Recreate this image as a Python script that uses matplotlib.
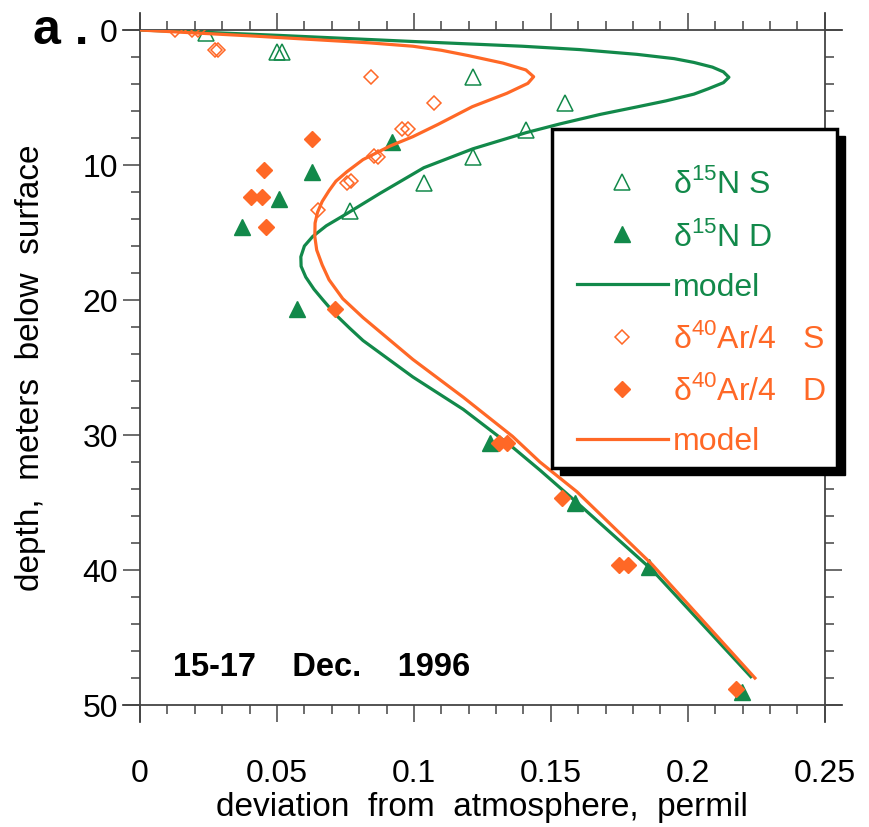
import numpy as np
import matplotlib
matplotlib.use("Agg")
import matplotlib.pyplot as plt
from matplotlib.patches import Rectangle
from matplotlib.ticker import MultipleLocator

plt.rcParams['font.family'] = ['Liberation Sans', 'DejaVu Sans']
plt.rcParams['mathtext.fontset'] = 'custom'
plt.rcParams['mathtext.rm'] = 'Liberation Sans'

GREEN = '#12894a'
ORANGE = '#ff6826'

# d15N, shallow (open) and deep (filled) samples: value, depth
n_s_val = [0.024, 0.050, 0.052, 0.1215, 0.155, 0.141, 0.1215, 0.1036, 0.0766]
n_s_dep = [0.2, 1.6, 1.6, 3.5, 5.4, 7.4, 9.4, 11.3, 13.4]
n_d_val = [0.092, 0.0628, 0.0507, 0.0372, 0.0573, 0.1277, 0.1588, 0.186, 0.2197]
n_d_dep = [8.3, 10.5, 12.5, 14.6, 20.7, 30.6, 35.0, 39.8, 49.0]

# d40Ar/4
ar_s_val = [0.0128, 0.019, 0.021, 0.0274, 0.0285, 0.0843, 0.1073, 0.0956, 0.0978,
            0.0854, 0.087, 0.0755, 0.077, 0.065]
ar_s_dep = [0.0, 0.0, 0.0, 1.5, 1.5, 3.5, 5.4, 7.3, 7.3, 9.3, 9.4, 11.3, 11.2, 13.3]
ar_d_val = [0.0628, 0.0453, 0.0405, 0.0445, 0.046, 0.0712, 0.131, 0.134, 0.154,
            0.175, 0.178, 0.2175]
ar_d_dep = [8.1, 10.4, 12.4, 12.4, 14.6, 20.7, 30.6, 30.6, 34.7, 39.6, 39.6, 48.8]

# model curves
n_mod_val = [0, 0.025, 0.051, 0.0996, 0.1395, 0.1606, 0.1813, 0.195, 0.2022, 0.209,
             0.213, 0.215, 0.213, 0.2075, 0.2022, 0.192, 0.1813, 0.168, 0.1534,
             0.141, 0.1215, 0.1036, 0.0876, 0.0755, 0.068, 0.063, 0.0600, 0.0587,
             0.0588, 0.0605, 0.0635, 0.0668, 0.0715, 0.0766, 0.0814, 0.0996, 0.118,
             0.136, 0.146, 0.1595, 0.187, 0.223]
n_mod_dep = [0, 0.18, 0.4, 0.85, 1.2, 1.45, 1.8, 2.12, 2.4, 2.75,
             3.1, 3.5, 3.9, 4.35, 4.75, 5.25, 5.7, 6.25, 6.95,
             7.6, 8.8, 10.2, 12.1, 13.6, 14.5, 15.3, 16.0, 16.8,
             17.5, 18.3, 19.2, 20.0, 21.1, 22.1, 23.0, 25.7, 28.1,
             30.9, 32.6, 35.0, 40.0, 47.9]
ar_mod_val = [0, 0.0418, 0.0837, 0.0996, 0.11, 0.12, 0.1325, 0.1409, 0.1437, 0.1416,
              0.1339, 0.1213, 0.1088, 0.0996, 0.0912, 0.0814, 0.0755, 0.0715, 0.069,
              0.0665, 0.0648, 0.0639, 0.0638, 0.0645, 0.0665, 0.069, 0.074, 0.0814,
              0.0996, 0.118, 0.136, 0.146, 0.1595, 0.187, 0.2245]
ar_mod_dep = [0, 0.45, 0.95, 1.2, 1.5, 1.9, 2.45, 2.96, 3.46, 3.95,
              4.69, 5.68, 6.99, 7.9, 8.6, 9.6, 10.5, 11.2, 11.9,
              12.7, 13.5, 14.3, 15.3, 16.3, 17.4, 18.5, 19.9, 21.3,
              24.4, 27.2, 30.1, 32.0, 34.2, 39.6, 48.0]

x_ticks = [0, 0.05, 0.1, 0.15, 0.2, 0.25]
x_labels = ['0', '0.05', '0.1', '0.15', '0.2', '0.25']
y_ticks = [0, 10, 20, 30, 40, 50]
y_labels = ['0', '10', '20', '30', '40', '50']

fig = plt.figure(figsize=(8.7, 8.27), dpi=100)
ax = fig.add_axes([0.161, 0.1475, 0.787, 0.8162])

h1, = ax.plot(n_s_val, n_s_dep, ls='none', marker='^', ms=11, mfc='none', mec=GREEN, mew=1.1)
h2, = ax.plot(n_d_val, n_d_dep, ls='none', marker='^', ms=11, color=GREEN)
h3, = ax.plot(n_mod_val, n_mod_dep, color=GREEN, lw=2.3)
h4, = ax.plot(ar_s_val, ar_s_dep, ls='none', marker='D', ms=7.5, mfc='none', mec=ORANGE, mew=1.1)
h5, = ax.plot(ar_d_val, ar_d_dep, ls='none', marker='D', ms=8, color=ORANGE)
h6, = ax.plot(ar_mod_val, ar_mod_dep, color=ORANGE, lw=2.3)

ax.set_xlim(0, 0.25)
ax.set_ylim(50, 0)
ax.set_xticks(x_ticks, x_labels)
ax.set_yticks(y_ticks, y_labels)
ax.xaxis.set_minor_locator(MultipleLocator(0.01))
ax.yaxis.set_minor_locator(MultipleLocator(2))
ax.tick_params(which='both', direction='out', top=True, right=True,
               labeltop=False, labelright=False, color='#444444', width=1.1,
               labelsize=23)
ax.tick_params(which='major', length=12)
ax.tick_params(which='minor', length=6.5)
ax.tick_params(axis='x', pad=27)
ax.tick_params(axis='y', pad=4)

for s in ax.spines.values():
    s.set_visible(False)
ex, ey = 0.025, 0.025
kw = dict(transform=ax.transAxes, clip_on=False, color='#444444', lw=1.3, zorder=1)
ax.plot([-ex, 1 + ex], [0, 0], **kw)
ax.plot([-ex, 1 + ex], [1, 1], **kw)
ax.plot([0, 0], [-ey, 1 + ey], **kw)
ax.plot([1, 1], [-ey, 1 + ey], **kw)

ax.set_xlabel('deviation  from  atmosphere,  permil', fontsize=24, labelpad=2)
ax.set_ylabel('depth,  meters  below  surface', fontsize=24, labelpad=26)

# legend box with hard shadow
bx0, bx1, by0, by1 = 0.601, 1.0175, 0.351, 0.853
ax.add_patch(Rectangle((bx0 + 0.0117, by0 - 0.0104), bx1 - bx0, by1 - by0,
                       transform=ax.transAxes, clip_on=False, facecolor='black',
                       edgecolor='black', zorder=5))
ax.add_patch(Rectangle((bx0, by0), bx1 - bx0, by1 - by0, transform=ax.transAxes,
                       clip_on=False, facecolor='white', edgecolor='black', lw=2.5, zorder=5))

labels = ['δ$^{15}$N S', 'δ$^{15}$N D', 'model',
          'δ$^{40}$Ar/4   S', 'δ$^{40}$Ar/4   D', 'model']
leg = ax.legend([h1, h2, h3, h4, h5, h6], labels, loc='upper left',
                bbox_to_anchor=(0.638, 0.795), frameon=False, fontsize=23,
                handlelength=2.85, handletextpad=0.15, borderpad=0, borderaxespad=0,
                labelspacing=0.63, numpoints=1,
                labelcolor=[GREEN, GREEN, GREEN, ORANGE, ORANGE, ORANGE])
leg.set_zorder(6)

fig.text(0.038, 0.962, 'a .', fontsize=36, fontweight='bold', va='center', ha='left')
ax.text(0.048, 0.056, '15-17    Dec.    1996', transform=ax.transAxes, fontsize=23.5,
        fontweight='bold', va='center', ha='left')

fig.savefig('out.png', dpi=100)
